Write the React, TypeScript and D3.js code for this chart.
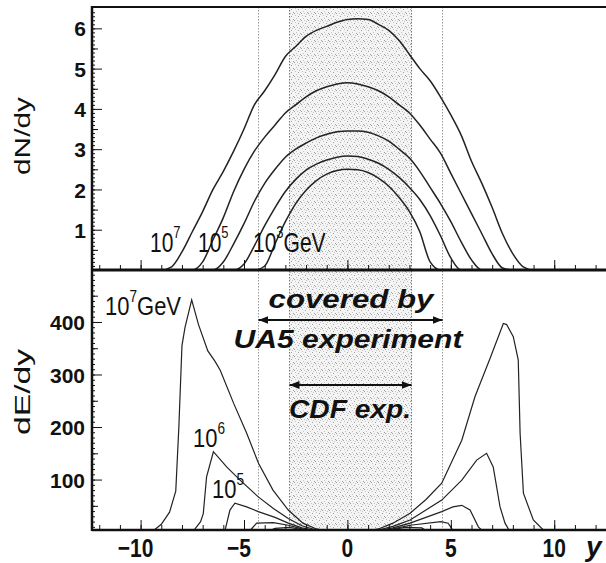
import React, { useEffect, useRef } from 'react';
import * as d3 from 'd3';

// rapidity grid for the dN/dy curves (top panel)
const rapidity = [
  -10, -9.5, -9, -8.5, -8, -7.5, -7, -6.5, -6, -5.5, -5, -4.5, -4, -3.5, -3, -2.5, -2, -1.5, -1, -0.5,
  0, 0.5, 1, 1.5, 2, 2.5, 3, 3.5, 4, 4.5, 5, 5.5, 6, 6.5, 7, 7.5, 8, 8.5, 9, 9.5, 10,
];

// dN/dy, one array per primary energy (10^7 ... 10^3 GeV)
const dNdy1e7 = [
  0, 0, 0, 0.08, 0.45, 0.95, 1.45, 2.0, 2.45, 2.95, 3.5, 4.1, 4.45, 4.85, 5.3, 5.55, 5.8, 5.95, 6.05, 6.15,
  6.22, 6.24, 6.22, 6.1, 5.95, 5.7, 5.35, 5.0, 4.7, 4.3, 3.85, 3.35, 2.7, 2.15, 1.55, 0.9, 0.4, 0.08, 0, 0, 0,
];
const dNdy1e6 = [
  0, 0, 0, 0, 0, 0, 0.2, 0.75, 1.3, 1.95, 2.5, 2.95, 3.3, 3.6, 3.9, 4.1, 4.3, 4.45, 4.55, 4.62,
  4.65, 4.62, 4.55, 4.45, 4.3, 4.1, 3.9, 3.6, 3.25, 2.9, 2.4, 1.9, 1.4, 0.9, 0.4, 0.05, 0, 0, 0, 0, 0,
];
const dNdy1e5 = [
  0, 0, 0, 0, 0, 0, 0, 0, 0.2, 0.65, 1.15, 1.7, 2.15, 2.5, 2.8, 3.0, 3.15, 3.28, 3.37, 3.43,
  3.45, 3.45, 3.42, 3.33, 3.2, 3.0, 2.78, 2.45, 2.05, 1.65, 1.2, 0.7, 0.25, 0, 0, 0, 0, 0, 0, 0, 0,
];
const dNdy1e4 = [
  0, 0, 0, 0, 0, 0, 0, 0, 0, 0, 0.15, 0.6, 1.1, 1.55, 1.95, 2.25, 2.48, 2.63, 2.73, 2.8,
  2.83, 2.82, 2.75, 2.65, 2.5, 2.3, 2.05, 1.75, 1.35, 0.85, 0.3, 0, 0, 0, 0, 0, 0, 0, 0, 0, 0,
];
const dNdy1e3 = [
  0, 0, 0, 0, 0, 0, 0, 0, 0, 0, 0, 0, 0.1, 0.65, 1.2, 1.65, 1.98, 2.22, 2.38, 2.47,
  2.5, 2.49, 2.42, 2.28, 2.08, 1.8, 1.45, 0.95, 0.2, 0, 0, 0, 0, 0, 0, 0, 0, 0, 0, 0, 0,
];

// dE/dy as [rapidity, value] pairs (bottom panel)
const dEdy1e7: [number, number][] = [
  [-10, 0], [-9.4, 2], [-9, 15], [-8.6, 38], [-8.3, 78], [-8.15, 200], [-8.0, 355], [-7.85, 390],
  [-7.53, 442], [-7.2, 395], [-6.75, 345], [-6.4, 325], [-6.15, 308], [-5.5, 245], [-4.87, 188],
  [-4.3, 131], [-3.6, 80], [-2.86, 42], [-2.15, 17], [-1.5, 6], [-1, 2], [0, 0], [1, 2], [1.5, 6],
  [2.2, 17], [3.03, 36], [3.8, 62], [4.56, 93], [5.53, 175], [6.17, 258], [6.9, 331], [7.54, 397],
  [7.7, 395], [8.02, 372], [8.26, 328], [8.35, 188], [8.51, 74], [8.99, 23], [9.47, 4], [10, 0],
];
const dEdy1e6: [number, number][] = [
  [-8, 0], [-7.45, 2], [-7.1, 20], [-6.97, 35], [-6.81, 105], [-6.48, 153], [-5.84, 124], [-5.19, 99],
  [-4.31, 67], [-3.58, 45], [-2.86, 26], [-2.2, 12], [-1.5, 4], [0, 0], [1.5, 4], [2.2, 11],
  [3.03, 23], [4.56, 61], [5.53, 99], [6.25, 137], [6.73, 150], [7.05, 124], [7.38, 48], [7.62, 17],
  [7.8, 5], [8.1, 0],
];
const dEdy1e5: [number, number][] = [
  [-6.2, 0], [-5.92, 3], [-5.68, 42], [-5.44, 55], [-4.87, 48], [-4.31, 39], [-3.5, 28], [-2.86, 17],
  [-2.2, 8], [-1.5, 3], [0, 0], [1.5, 3], [2.2, 8], [3.03, 17], [4.56, 39], [5.1, 48], [5.53, 51],
  [5.93, 42], [6.33, 10], [6.6, 0],
];
const dEdy1e4: [number, number][] = [
  [-5, 0], [-4.71, 3], [-4.39, 17], [-3.58, 18], [-2.86, 13], [-2.2, 6], [-1.5, 2], [0, 0], [1.5, 2],
  [2.2, 6], [3.03, 13], [4.52, 20], [4.87, 17], [5.12, 2], [5.3, 0],
];
const dEdy1e3: [number, number][] = [
  [-3.9, 0], [-3.5, 7], [-2.8, 9], [-2.2, 5], [-1.5, 1], [0, 0], [1.5, 1], [2.2, 5], [2.8, 9],
  [3.6, 8], [3.9, 0],
];

const xTickLabels = [-10, -5, 0, 5, 10];
const topTickLabels = [1, 2, 3, 4, 5, 6];
const bottomTickLabels = [100, 200, 300, 400];
// acceptance edges: UA5 and CDF
const ua5Range = [-4.3, 4.6];
const cdfRange = [-2.8, 3.1];

const W = 606;
const H = 563;
const FONT = '"Liberation Sans", Arial, sans-serif';

const App = () => {
  const svgRef = useRef<SVGSVGElement>(null);

  useEffect(() => {
    const svg = d3.select(svgRef.current);
    svg.selectAll('*').remove();

    const left = 92, right = 608, top = 7, mid = 270, bottom = 530;

    const x = d3.scaleLinear().domain([-12.35, 12.6]).range([left, right]);
    const yTop = d3.scaleLinear().domain([0, 6.53]).range([mid, top]);
    const yBot = d3.scaleLinear().domain([4, 497]).range([bottom, mid + 1]);

    const defs = svg.append('defs');

    // stipple for the CDF band
    const pat = defs.append('pattern')
      .attr('id', 'stipple')
      .attr('width', 7).attr('height', 7)
      .attr('patternUnits', 'userSpaceOnUse');
    pat.append('rect').attr('width', 7).attr('height', 7).attr('fill', '#f4f4f4');
    [[1, 1], [4, 2], [2, 4], [6, 5], [5, 0], [0, 6], [3, 6]].forEach(([px, py], i) => {
      pat.append('rect')
        .attr('x', px).attr('y', py)
        .attr('width', 1).attr('height', 1)
        .attr('fill', i % 2 ? '#a0a0a0' : '#c4c4c4');
    });

    defs.append('clipPath').attr('id', 'clipTop')
      .append('rect').attr('x', left).attr('y', top).attr('width', right - left).attr('height', mid - top + 1);
    defs.append('clipPath').attr('id', 'clipBot')
      .append('rect').attr('x', left).attr('y', mid).attr('width', right - left).attr('height', bottom - mid + 1);

    const marker = defs.append('marker')
      .attr('id', 'arrow')
      .attr('viewBox', '0 0 10 8')
      .attr('refX', 10).attr('refY', 4)
      .attr('markerWidth', 10).attr('markerHeight', 8)
      .attr('markerUnits', 'userSpaceOnUse')
      .attr('orient', 'auto-start-reverse');
    marker.append('path').attr('d', 'M0,0 L10,4 L0,8 Z').attr('fill', '#111');

    svg.append('rect').attr('width', W).attr('height', H).attr('fill', '#fff');

    // shaded CDF band
    svg.append('rect')
      .attr('x', x(cdfRange[0])).attr('y', top)
      .attr('width', x(cdfRange[1]) - x(cdfRange[0]))
      .attr('height', bottom - top)
      .attr('fill', 'url(#stipple)');

    // dotted acceptance lines
    [...ua5Range, ...cdfRange].forEach((v, i) => {
      svg.append('line')
        .attr('x1', x(v)).attr('x2', x(v))
        .attr('y1', top).attr('y2', bottom)
        .attr('stroke', i < 2 ? '#999' : '#777')
        .attr('stroke-width', 1)
        .attr('stroke-dasharray', '1.5,1.5');
    });

    // top curves
    const lineTop = d3.line<number>()
      .x((_, i) => x(rapidity[i]))
      .y(d => yTop(d))
      .curve(d3.curveMonotoneX);
    const gTop = svg.append('g').attr('clip-path', 'url(#clipTop)');
    [dNdy1e7, dNdy1e6, dNdy1e5, dNdy1e4, dNdy1e3].forEach(series => {
      gTop.append('path')
        .attr('d', lineTop(series))
        .attr('fill', 'none')
        .attr('stroke', '#222')
        .attr('stroke-width', 1.5);
    });

    // bottom curves
    const lineBot = d3.line<[number, number]>()
      .x(d => x(d[0]))
      .y(d => yBot(d[1]))
      .curve(d3.curveLinear);
    const gBot = svg.append('g').attr('clip-path', 'url(#clipBot)');
    [dEdy1e7, dEdy1e6, dEdy1e5, dEdy1e4, dEdy1e3].forEach(series => {
      gBot.append('path')
        .attr('d', lineBot(series))
        .attr('fill', 'none')
        .attr('stroke', '#222')
        .attr('stroke-width', 1.2);
    });

    // axes (ticks pointing inward)
    const styleAxis = (g: any) => {
      g.select('.domain').remove();
      g.selectAll('line').attr('stroke', '#111').attr('stroke-width', 1);
    };

    const topMinor = d3.range(0.1, 6.5, 0.1);
    svg.append('g').attr('transform', `translate(${left},0)`)
      .call(d3.axisLeft(yTop).tickValues(topMinor).tickSize(-3).tickFormat(() => ''))
      .call(styleAxis);
    svg.append('g').attr('transform', `translate(${left},0)`)
      .call(d3.axisLeft(yTop).tickValues(d3.range(0.5, 6.5, 1)).tickSize(-6).tickFormat(() => ''))
      .call(styleAxis);
    const topAxis = svg.append('g').attr('transform', `translate(${left},0)`)
      .call(d3.axisLeft(yTop).tickValues(topTickLabels).tickSize(-10).tickPadding(6).tickFormat(d3.format('d')))
      .call(styleAxis);
    topAxis.selectAll('text')
      .attr('font-family', FONT).attr('font-size', 21).attr('font-weight', 'bold').attr('fill', '#111')
      .attr('dy', '0.36em');

    const botMinor = d3.range(10, 495, 10);
    svg.append('g').attr('transform', `translate(${left},0)`)
      .call(d3.axisLeft(yBot).tickValues(botMinor).tickSize(-3).tickFormat(() => ''))
      .call(styleAxis);
    svg.append('g').attr('transform', `translate(${left},0)`)
      .call(d3.axisLeft(yBot).tickValues([50, 150, 250, 350, 450]).tickSize(-6).tickFormat(() => ''))
      .call(styleAxis);
    const botAxis = svg.append('g').attr('transform', `translate(${left},0)`)
      .call(d3.axisLeft(yBot).tickValues(bottomTickLabels).tickSize(-10).tickPadding(7).tickFormat(d3.format('d')))
      .call(styleAxis);
    botAxis.selectAll('text')
      .attr('font-family', FONT).attr('font-size', 21).attr('font-weight', 'bold').attr('fill', '#111')
      .attr('dy', '0.36em');

    // x ticks on both panel bottoms
    [mid, bottom].forEach(yPos => {
      svg.append('g').attr('transform', `translate(0,${yPos})`)
        .call(d3.axisBottom(x).tickValues(d3.range(-12, 13, 1)).tickSize(-5).tickFormat(() => ''))
        .call(styleAxis);
      svg.append('g').attr('transform', `translate(0,${yPos})`)
        .call(d3.axisBottom(x).tickValues(xTickLabels).tickSize(-10).tickFormat(() => ''))
        .call(styleAxis);
    });

    // x tick labels (tall narrow glyphs)
    xTickLabels.forEach(v => {
      svg.append('text')
        .attr('transform', `translate(${x(v) + (v < 0 ? -5 : 0)},557) scale(1,1.25)`)
        .attr('text-anchor', 'middle')
        .attr('font-family', FONT).attr('font-size', 21).attr('font-weight', 'bold').attr('fill', '#111')
        .text(v < 0 ? `\u2212${Math.abs(v)}` : `${v}`);
    });

    // frame
    const frame = svg.append('g').attr('stroke', '#111').attr('fill', 'none');
    frame.append('line').attr('x1', left).attr('x2', W).attr('y1', top).attr('y2', top).attr('stroke-width', 2);
    frame.append('line').attr('x1', left).attr('x2', W).attr('y1', mid).attr('y2', mid).attr('stroke-width', 3);
    frame.append('line').attr('x1', left).attr('x2', W).attr('y1', bottom).attr('y2', bottom).attr('stroke-width', 2.5);
    frame.append('line').attr('x1', left).attr('x2', left).attr('y1', top - 1).attr('y2', bottom + 1).attr('stroke-width', 2.5);

    // axis titles
    const yTitle = (label: string, cy: number, len: number) => {
      svg.append('text')
        .attr('transform', `translate(30,${cy}) rotate(-90)`)
        .attr('text-anchor', 'middle')
        .attr('font-family', FONT).attr('font-size', 22).attr('fill', '#111')
        .attr('textLength', len).attr('lengthAdjust', 'spacingAndGlyphs')
        .text(label);
    };
    yTitle('dN/dy', 136, 78);
    yTitle('dE/dy', 392, 86);

    svg.append('text')
      .attr('x', 586).attr('y', 556)
      .attr('font-family', FONT).attr('font-size', 28).attr('font-weight', 'bold').attr('font-style', 'italic')
      .attr('fill', '#111')
      .text('y');

    // energy labels
    const power = (xPos: number, yPos: number, exp: string, suffix: string, size: number, sy: number) => {
      const t = svg.append('text')
        .attr('transform', `translate(${xPos},${yPos}) scale(1,${sy})`)
        .attr('font-family', FONT).attr('font-size', size).attr('fill', '#111');
      t.append('tspan').text('10');
      t.append('tspan').attr('font-size', size * 0.62).attr('dy', -size * 0.5).text(exp);
      if (suffix) t.append('tspan').attr('dy', size * 0.5).text(suffix);
    };
    power(150, 252, '7', '', 21, 1.3);
    power(198, 252, '5', '', 21, 1.3);
    power(253, 252, '3', 'GeV', 21, 1.3);
    power(105, 315, '7', 'GeV', 22, 1.15);
    power(193, 447, '6', '', 22, 1.15);
    power(212, 498, '5', '', 22, 1.15);

    // acceptance annotations
    const note = (label: string, cx: number, yPos: number, len: number) => {
      svg.append('text')
        .attr('x', cx).attr('y', yPos)
        .attr('text-anchor', 'middle')
        .attr('font-family', FONT).attr('font-size', 26).attr('font-weight', 'bold').attr('font-style', 'italic')
        .attr('fill', '#111')
        .attr('textLength', len).attr('lengthAdjust', 'spacingAndGlyphs')
        .text(label);
    };
    note('covered by', 351, 308, 165);
    note('UA5 experiment', 348, 348, 229);
    note('CDF exp.', 350, 418, 122);

    const arrow = (range: number[], yPos: number) => {
      svg.append('line')
        .attr('x1', x(range[0])).attr('x2', x(range[1]))
        .attr('y1', yPos).attr('y2', yPos)
        .attr('stroke', '#111').attr('stroke-width', 2)
        .attr('marker-start', 'url(#arrow)')
        .attr('marker-end', 'url(#arrow)');
    };
    arrow(ua5Range, 320);
    arrow(cdfRange, 385);
  }, []);

  return (
    <svg
      ref={svgRef}
      width={W}
      height={H}
      style={{ position: 'absolute', left: 0, top: 0, display: 'block' }}
    />
  );
};

export default App;
